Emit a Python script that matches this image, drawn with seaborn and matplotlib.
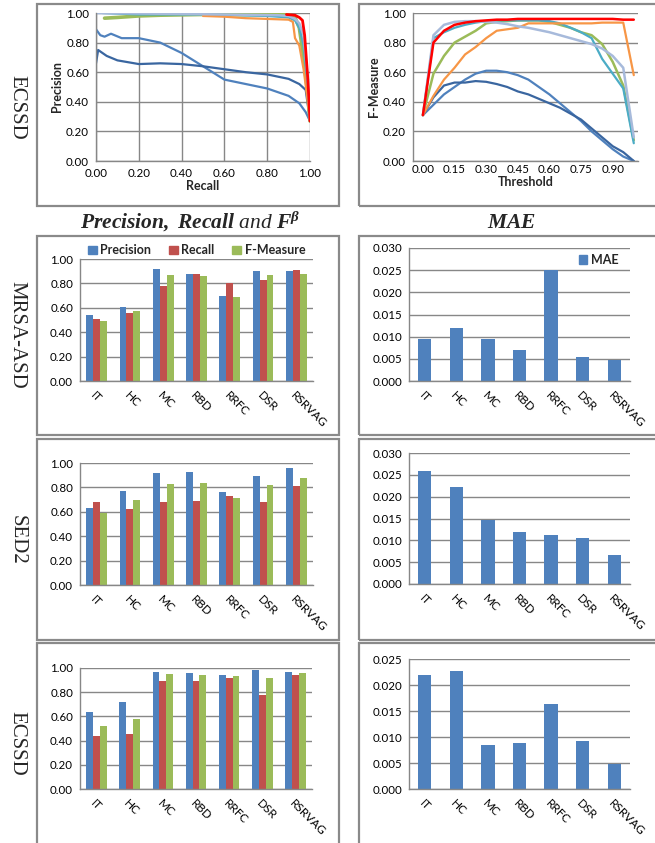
import numpy as np
import pandas as pd
import seaborn as sns
import matplotlib.pyplot as plt
from matplotlib.patches import Rectangle, Patch

W, H = 655, 843

methods = ['IT', 'HC', 'MC', 'RBD', 'RRFC', 'DSR', 'RSRVAG']
metrics = ['Precision', 'Recall', 'F-Measure']
row_names = ['ECSSD', 'MRSA-ASD', 'SED2', 'ECSSD']

# bar chart values
mrsa_precision = [0.54, 0.61, 0.92, 0.88, 0.70, 0.90, 0.90]
mrsa_recall = [0.505, 0.56, 0.78, 0.875, 0.80, 0.83, 0.91]
mrsa_fmeasure = [0.49, 0.57, 0.865, 0.86, 0.69, 0.87, 0.875]
mrsa_mae = [0.0095, 0.0119, 0.0095, 0.0070, 0.0250, 0.0055, 0.0047]

sed2_precision = [0.63, 0.77, 0.92, 0.925, 0.76, 0.89, 0.955]
sed2_recall = [0.68, 0.62, 0.68, 0.69, 0.73, 0.68, 0.81]
sed2_fmeasure = [0.59, 0.70, 0.83, 0.84, 0.715, 0.82, 0.88]
sed2_mae = [0.0258, 0.0221, 0.0146, 0.0119, 0.0112, 0.0105, 0.0066]

ecssd_precision = [0.64, 0.72, 0.97, 0.96, 0.945, 0.98, 0.97]
ecssd_recall = [0.44, 0.455, 0.895, 0.89, 0.915, 0.78, 0.94]
ecssd_fmeasure = [0.52, 0.58, 0.95, 0.94, 0.93, 0.915, 0.96]
ecssd_mae = [0.0220, 0.0227, 0.0085, 0.0089, 0.0163, 0.0092, 0.0048]

# precision-recall curves (ECSSD)
it_recall = [0.00, 0.02, 0.04, 0.07, 0.12, 0.20, 0.30, 0.40, 0.50, 0.60, 0.70, 0.80, 0.90, 0.95, 0.98, 1.00]
it_precision = [0.89, 0.85, 0.84, 0.86, 0.83, 0.83, 0.80, 0.73, 0.64, 0.55, 0.52, 0.49, 0.44, 0.39, 0.33, 0.27]
hc_recall = [0.00, 0.01, 0.05, 0.10, 0.20, 0.30, 0.40, 0.50, 0.60, 0.70, 0.80, 0.90, 0.95, 0.98, 1.00]
hc_precision = [0.66, 0.75, 0.71, 0.68, 0.655, 0.66, 0.655, 0.64, 0.62, 0.60, 0.585, 0.555, 0.52, 0.48, 0.27]
mc_recall = [0.04, 0.10, 0.20, 0.30, 0.50, 0.80, 0.90, 0.93, 0.95, 0.96, 0.97, 0.99, 1.00]
mc_precision = [0.965, 0.97, 0.98, 0.985, 0.99, 0.99, 0.99, 0.97, 0.90, 0.80, 0.70, 0.45, 0.27]
rbd_recall = [0.03, 0.20, 0.50, 0.80, 0.90, 0.93, 0.95, 0.97, 0.99, 1.00]
rbd_precision = [1.00, 0.99, 0.99, 0.98, 0.97, 0.95, 0.90, 0.78, 0.50, 0.27]
rrfc_recall = [0.50, 0.60, 0.70, 0.80, 0.90, 0.92, 0.93, 0.95, 0.97, 0.99, 1.00]
rrfc_precision = [0.98, 0.975, 0.965, 0.96, 0.955, 0.94, 0.83, 0.78, 0.62, 0.40, 0.27]
dsr_recall = [0.00, 0.30, 0.60, 0.85, 0.90, 0.93, 0.95, 0.97, 0.99, 1.00]
dsr_precision = [1.00, 0.995, 0.99, 0.985, 0.98, 0.96, 0.93, 0.85, 0.55, 0.27]
rsrvag_recall = [0.89, 0.93, 0.95, 0.965, 0.975, 0.99, 1.00]
rsrvag_precision = [0.99, 0.985, 0.97, 0.95, 0.85, 0.55, 0.27]

# F-measure against threshold (ECSSD)
thresholds = [0.00, 0.05, 0.10, 0.15, 0.20, 0.25, 0.30, 0.35, 0.40, 0.45, 0.50,
              0.55, 0.60, 0.65, 0.70, 0.75, 0.80, 0.85, 0.90, 0.95, 1.00]
it_f = [0.31, 0.38, 0.45, 0.50, 0.55, 0.59, 0.61, 0.61, 0.60, 0.58, 0.55,
        0.50, 0.45, 0.39, 0.33, 0.27, 0.20, 0.14, 0.08, 0.03, 0.00]
hc_f = [0.31, 0.43, 0.51, 0.53, 0.53, 0.54, 0.535, 0.52, 0.50, 0.47, 0.45,
        0.42, 0.39, 0.36, 0.32, 0.28, 0.22, 0.16, 0.10, 0.06, 0.00]
mc_f = [0.31, 0.59, 0.71, 0.80, 0.84, 0.88, 0.93, 0.94, 0.945, 0.95, 0.95,
        0.95, 0.94, 0.92, 0.90, 0.87, 0.85, 0.79, 0.67, 0.51, 0.14]
rbd_f = [0.31, 0.83, 0.87, 0.90, 0.92, 0.935, 0.945, 0.95, 0.95, 0.95, 0.95,
         0.95, 0.945, 0.93, 0.90, 0.87, 0.83, 0.69, 0.59, 0.49, 0.12]
rrfc_f = [0.31, 0.44, 0.55, 0.63, 0.72, 0.77, 0.83, 0.88, 0.89, 0.90, 0.93,
          0.93, 0.93, 0.93, 0.93, 0.93, 0.93, 0.935, 0.935, 0.935, 0.58]
dsr_f = [0.31, 0.85, 0.92, 0.94, 0.945, 0.945, 0.94, 0.935, 0.925, 0.91, 0.90,
         0.885, 0.87, 0.85, 0.83, 0.81, 0.79, 0.76, 0.71, 0.63, 0.16]
rsrvag_f = [0.31, 0.80, 0.88, 0.92, 0.935, 0.945, 0.95, 0.955, 0.955, 0.96, 0.96,
            0.96, 0.96, 0.96, 0.96, 0.96, 0.96, 0.96, 0.96, 0.955, 0.955]

bar_colors = ['#4F81BD', '#C0504D', '#9BBB59']
line_colors = ['#4F81BD', '#3A66A0', '#9BBB59', '#4BACC6', '#F79646', '#A7BADB', '#FF0000']
line_widths = [1.6, 1.6, 2.6, 1.6, 1.6, 1.8, 2.0]
grid_c = '#878787'

sns.set_style('white')
plt.rcParams['font.family'] = ['Lato', 'DejaVu Sans']
plt.rcParams['mathtext.fontset'] = 'custom'
plt.rcParams['mathtext.rm'] = 'Liberation Serif'
plt.rcParams['mathtext.it'] = 'Liberation Serif:italic'
plt.rcParams['mathtext.bf'] = 'Liberation Serif:bold'
plt.rcParams['mathtext.bfit'] = 'Liberation Serif:bold:italic'

fig = plt.figure(figsize=(W / 100, H / 100), dpi=100)


def px_axes(x0, y0, x1, y1):
    return fig.add_axes([x0 / W, 1 - y1 / H, (x1 - x0) / W, (y1 - y0) / H])


def style_axes(ax):
    for s in ['top', 'right']:
        ax.spines[s].set_visible(False)
    for s in ['left', 'bottom']:
        ax.spines[s].set_color(grid_c)
        ax.spines[s].set_linewidth(1.0)
    ax.set_axisbelow(True)
    ax.grid(axis='y', color=grid_c, lw=1.0)
    ax.tick_params(axis='both', labelsize=8.3, colors=grid_c, labelcolor='black',
                   length=3, width=1.0, pad=2)


def category_axis(ax):
    ax.set_xlim(-0.5, len(methods) - 0.5)
    ax.set_xticks(range(len(methods)))
    ax.set_xticklabels(methods, rotation=-45, ha='left', rotation_mode='anchor', fontsize=8.5)
    ax.tick_params(axis='x', which='major', length=0, pad=6)
    ax.set_xticks(np.arange(-0.5, len(methods)), minor=True)
    ax.tick_params(axis='x', which='minor', length=4, color=grid_c, width=1.0)
    ax.set_xlabel('')
    ax.set_ylabel('')


# panel borders
boxes = [(37, 4, 339, 206), (359, 4, 662, 206),
         (37, 236, 339, 435), (359, 236, 662, 435),
         (37, 439, 339, 640), (359, 439, 662, 640),
         (37, 643, 339, 850), (359, 643, 662, 850)]
for x0, y0, x1, y1 in boxes:
    fig.add_artist(Rectangle((x0 / W, 1 - y1 / H), (x1 - x0) / W, (y1 - y0) / H,
                             transform=fig.transFigure, fill=False,
                             edgecolor='#8a8a8a', lw=1.6))

# precision-recall
ax = px_axes(96, 13, 310, 161)
pr_curves = [(it_recall, it_precision), (hc_recall, hc_precision), (mc_recall, mc_precision),
             (rbd_recall, rbd_precision), (rrfc_recall, rrfc_precision),
             (dsr_recall, dsr_precision), (rsrvag_recall, rsrvag_precision)]
for (r, p), c, lw in zip(pr_curves, line_colors, line_widths):
    sns.lineplot(x=r, y=p, color=c, lw=lw, sort=False, estimator=None, ax=ax)
style_axes(ax)
ax.grid(axis='x', color=grid_c, lw=1.0)
ax.set_xlim(0, 1.0)
ax.set_ylim(0, 1.0)
ax.set_xticks(np.linspace(0, 1, 6))
ax.set_yticks(np.linspace(0, 1, 6))
ax.xaxis.set_major_formatter('{x:.2f}')
ax.yaxis.set_major_formatter('{x:.2f}')
ax.set_xlabel('Recall', fontsize=9, fontweight='bold', labelpad=1)
ax.set_ylabel('Precision', fontsize=9, fontweight='bold', labelpad=2)

# F-measure vs threshold
ax = px_axes(413, 13, 638, 161)
f_curves = [it_f, hc_f, mc_f, rbd_f, rrfc_f, dsr_f, rsrvag_f]
for f, c, lw in zip(f_curves, line_colors, line_widths):
    sns.lineplot(x=thresholds, y=f, color=c, lw=min(lw, 1.8), estimator=None, ax=ax)
style_axes(ax)
ax.set_xlim(-0.047, 1.02)
ax.set_ylim(0, 1.0)
ax.set_xticks(thresholds[::3][:7])
ax.set_yticks(np.linspace(0, 1, 6))
ax.tick_params(axis='x', length=0)
ax.xaxis.set_major_formatter('{x:.2f}')
ax.yaxis.set_major_formatter('{x:.2f}')
ax.set_xlabel('Threshold', fontsize=9, fontweight='bold', labelpad=1)
ax.set_ylabel('F-Measure', fontsize=9, fontweight='bold', labelpad=2)

# column titles
fig.text(190 / W, 1 - 222 / H,
         r'$\mathbfit{Precision,\ Recall}\ \mathit{and}\ \mathbfit{F^{\beta}}$',
         fontsize=15.5, ha='center', va='center')
fig.text(512 / W, 1 - 222 / H, r'$\mathbfit{MAE}$', fontsize=15.5, ha='center', va='center')

# row labels
for name, yc in zip(row_names, [107, 335, 540, 743]):
    fig.text(17 / W, 1 - yc / H, name, rotation=270, family='Liberation Serif',
             fontsize=15, ha='center', va='center')

bar_rows = [
    ((80, 259, 313, 381), (409, 248, 630, 381),
     mrsa_precision, mrsa_recall, mrsa_fmeasure, mrsa_mae, 0.030),
    ((80, 463, 313, 585), (409, 453, 630, 584),
     sed2_precision, sed2_recall, sed2_fmeasure, sed2_mae, 0.030),
    ((80, 668, 312, 789), (409, 659, 630, 789),
     ecssd_precision, ecssd_recall, ecssd_fmeasure, ecssd_mae, 0.025),
]

for i, (lbox, rbox, prec, rec, fm, mae, mae_top) in enumerate(bar_rows):
    df = pd.DataFrame({
        'method': methods * 3,
        'metric': [m for m in metrics for _ in methods],
        'value': prec + rec + fm,
    })
    ax = px_axes(*lbox)
    sns.barplot(data=df, x='method', y='value', hue='metric', palette=bar_colors,
                width=0.62, saturation=1, linewidth=0, legend=False, ax=ax)
    style_axes(ax)
    category_axis(ax)
    ax.set_ylim(0, 1.0)
    ax.set_yticks(np.linspace(0, 1, 6))
    ax.yaxis.set_major_formatter('{x:.2f}')
    if i == 0:
        handles = [Patch(color=c, label=m) for c, m in zip(bar_colors, metrics)]
        ax.legend(handles=handles, loc='lower center', bbox_to_anchor=(0.5, 0.93), ncol=3,
                  frameon=False, handlelength=0.7, handleheight=0.7, handletextpad=0.3,
                  columnspacing=1.4, prop={'weight': 'bold', 'size': 9})

    ax = px_axes(*rbox)
    sns.barplot(x=methods, y=mae, color=bar_colors[0], width=0.42, saturation=1,
                linewidth=0, ax=ax)
    style_axes(ax)
    category_axis(ax)
    ax.set_ylim(0, mae_top)
    ax.set_yticks(np.arange(0, mae_top + 0.0001, 0.005))
    ax.yaxis.set_major_formatter('{x:.3f}')
    if i == 0:
        ax.legend(handles=[Patch(color=bar_colors[0], label='MAE')], loc='upper right',
                  bbox_to_anchor=(1.0, 1.04), frameon=False, handlelength=0.7,
                  handleheight=0.7, handletextpad=0.3,
                  prop={'weight': 'bold', 'size': 9})

fig.savefig('out.png', dpi=100)
